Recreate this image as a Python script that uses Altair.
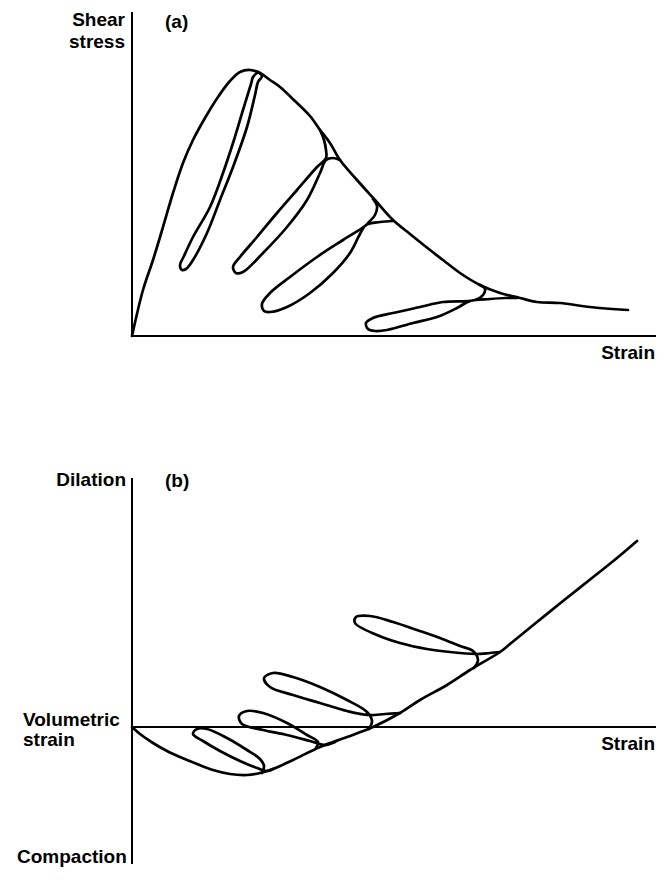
import altair as alt
import pandas as pd

# ---------------- Panel (a): shear stress vs strain (schematic units) ----------------
A_ENV_STRAIN = [0, 11, 21, 31, 41, 51, 61, 73, 86, 98, 108, 118, 128, 138, 148, 163, 178, 188, 198, 208,
                225, 243, 261, 278, 298, 311, 328, 348, 368, 388, 405, 428, 458, 496]
A_ENV_STRESS = [0, 46, 76, 109, 143, 173, 196, 218, 239, 255, 264, 266, 263, 256, 249, 235, 220, 206, 193, 176,
                156, 136, 116, 102, 86, 76, 63, 51, 43, 38, 34, 33, 29, 26]

A_LOOP1_STRAIN = [126, 121, 119, 111, 101, 91, 78, 61, 52, 48, 50, 54, 61, 75, 88, 101, 115, 123, 126, 130, 126]
A_LOOP1_STRESS = [264, 259, 252, 226, 193, 163, 129, 99, 80, 71, 66, 67, 76, 103, 136, 169, 209, 241, 254, 260, 264]

A_LOOP2_STRAIN = [188, 192, 194, 194, 185, 165, 145, 125, 108, 101, 104, 111, 131, 155, 175, 188, 194, 201, 208]
A_LOOP2_STRESS = [206, 196, 186, 178, 169, 146, 123, 99, 79, 69, 63, 64, 83, 109, 136, 163, 176, 178, 176]

A_LOOP3_STRAIN = [241, 245, 243, 237, 233, 211, 185, 158, 138, 130, 132, 138, 155, 178, 201, 218, 228, 234, 248, 261]
A_LOOP3_STRESS = [137, 130, 121, 114, 110, 96, 79, 59, 43, 32, 25, 24, 29, 43, 63, 83, 102, 111, 114, 115]

A_LOOP4_STRAIN = [348, 353, 351, 343, 311, 288, 261, 241, 234, 236, 243, 255, 281, 305, 325, 338, 358, 373, 385]
A_LOOP4_STRESS = [51, 47, 41, 36, 34, 29, 23, 18, 13, 7, 5, 6, 13, 19, 28, 35, 37, 38, 38]

A_AXES_X = [0, 0]
A_AXES_X2 = [524, 0]
A_AXES_Y = [0, 0]
A_AXES_Y2 = [0, 324]

A_LABELS_RIGHT = ["Shear", "stress", "Strain"]
A_LABELS_RIGHT_X = [-7, -7, 523]
A_LABELS_RIGHT_Y = [316, 294, -17]
A_LABELS_LEFT = ["(a)"]
A_LABELS_LEFT_X = [33]
A_LABELS_LEFT_Y = [314]

# ---------------- Panel (b): volumetric strain vs strain (schematic units) ----------------
B_ENV_STRAIN = [0, 8, 21, 35, 48, 65, 81, 98, 115, 128, 141, 161, 188, 215, 241, 268, 288, 315, 338, 368,
                378, 405, 431, 465, 485, 505]
B_ENV_VOL = [0, -7, -16, -24, -30, -37, -43, -47, -48, -46, -42, -33, -20, -10, 0, 14, 27, 42, 57, 75,
             83, 105, 126, 153, 169, 186]

B_LOOP1_STRAIN = [130, 132, 128, 115, 95, 75, 65, 61, 71, 88, 108, 125, 136, 141]
B_LOOP1_VOL = [-46, -39, -32, -23, -11, -2, -2, -7, -14, -24, -34, -41, -44, -42]

B_LOOP2_STRAIN = [184, 186, 175, 155, 131, 115, 107, 110, 131, 155, 178, 193, 203]
B_LOOP2_VOL = [-21, -15, -8, 4, 14, 16, 11, 3, -3, -8, -14, -18, -15]

B_LOOP3_STRAIN = [237, 240, 235, 215, 188, 161, 141, 132, 138, 161, 188, 215, 236, 253, 268]
B_LOOP3_VOL = [-2, 6, 15, 27, 40, 50, 54, 49, 40, 32, 24, 16, 12, 13, 14]

B_LOOP4_STRAIN = [342, 346, 341, 328, 308, 285, 261, 238, 224, 223, 245, 268, 295, 318, 343, 358, 368]
B_LOOP4_VOL = [59, 67, 76, 81, 89, 97, 105, 111, 110, 104, 92, 84, 78, 75, 73, 74, 75]

B_AXES_X = [0, 0]
B_AXES_X2 = [524, 0]
B_AXES_Y = [0, -137]
B_AXES_Y2 = [0, 249]

B_LABELS_RIGHT = ["Dilation", "Strain"]
B_LABELS_RIGHT_X = [-6, 523]
B_LABELS_RIGHT_Y = [247, -17]
B_LABELS_LEFT = ["(b)", "Volumetric", "strain", "Compaction"]
B_LABELS_LEFT_X = [33, -109, -109, -115]
B_LABELS_LEFT_Y = [246, 7, -13, -130]


def series(name, xs, ys):
    return pd.DataFrame({"series": name, "i": list(range(len(xs))), "x": xs, "y": ys})


def labels(texts, xs, ys):
    return pd.DataFrame({"label": texts, "x": xs, "y": ys})


FONT = "Liberation Sans"
FS = 19
W = 649

xscale = alt.Scale(domain=[-124, 525], nice=False, zero=False)


def panel(curves_df, axes_df, right_df, left_df, ydomain, height):
    yscale = alt.Scale(domain=ydomain, nice=False, zero=False)
    X = alt.X("x:Q", scale=xscale, axis=None)
    Y = alt.Y("y:Q", scale=yscale, axis=None)
    curves = alt.Chart(curves_df).mark_line(
        interpolate="catmull-rom", color="black", strokeWidth=2.7,
        strokeJoin="round", strokeCap="round"
    ).encode(x=X, y=Y, detail="series:N", order="i:Q")
    axes = alt.Chart(axes_df).mark_rule(color="black", strokeWidth=2).encode(
        x=X, x2="x2:Q", y=Y, y2="y2:Q"
    )
    t_right = alt.Chart(right_df).mark_text(
        align="right", baseline="middle", font=FONT, fontSize=FS, fontWeight="bold", color="black"
    ).encode(x=X, y=Y, text="label:N")
    t_left = alt.Chart(left_df).mark_text(
        align="left", baseline="middle", font=FONT, fontSize=FS, fontWeight="bold", color="black"
    ).encode(x=X, y=Y, text="label:N")
    return alt.layer(curves, axes, t_right, t_left).properties(width=W, height=height)


curves_a = pd.concat([
    series("env", A_ENV_STRAIN, A_ENV_STRESS),
    series("loop1", A_LOOP1_STRAIN, A_LOOP1_STRESS),
    series("loop2", A_LOOP2_STRAIN, A_LOOP2_STRESS),
    series("loop3", A_LOOP3_STRAIN, A_LOOP3_STRESS),
    series("loop4", A_LOOP4_STRAIN, A_LOOP4_STRESS),
], ignore_index=True)
axes_a = pd.DataFrame({"x": A_AXES_X, "x2": A_AXES_X2, "y": A_AXES_Y, "y2": A_AXES_Y2})

curves_b = pd.concat([
    series("env", B_ENV_STRAIN, B_ENV_VOL),
    series("loop1", B_LOOP1_STRAIN, B_LOOP1_VOL),
    series("loop2", B_LOOP2_STRAIN, B_LOOP2_VOL),
    series("loop3", B_LOOP3_STRAIN, B_LOOP3_VOL),
    series("loop4", B_LOOP4_STRAIN, B_LOOP4_VOL),
], ignore_index=True)
axes_b = pd.DataFrame({"x": B_AXES_X, "x2": B_AXES_X2, "y": B_AXES_Y, "y2": B_AXES_Y2})

chart_a = panel(curves_a, axes_a,
                labels(A_LABELS_RIGHT, A_LABELS_RIGHT_X, A_LABELS_RIGHT_Y),
                labels(A_LABELS_LEFT, A_LABELS_LEFT_X, A_LABELS_LEFT_Y),
                [-50, 328], 378)
chart_b = panel(curves_b, axes_b,
                labels(B_LABELS_RIGHT, B_LABELS_RIGHT_X, B_LABELS_RIGHT_Y),
                labels(B_LABELS_LEFT, B_LABELS_LEFT_X, B_LABELS_LEFT_Y),
                [-139, 341], 480)

chart = alt.vconcat(chart_a, chart_b, spacing=0).properties(padding=0).configure_view(stroke=None)

chart.save("out.html", embed_options={"renderer": "svg", "actions": False})
